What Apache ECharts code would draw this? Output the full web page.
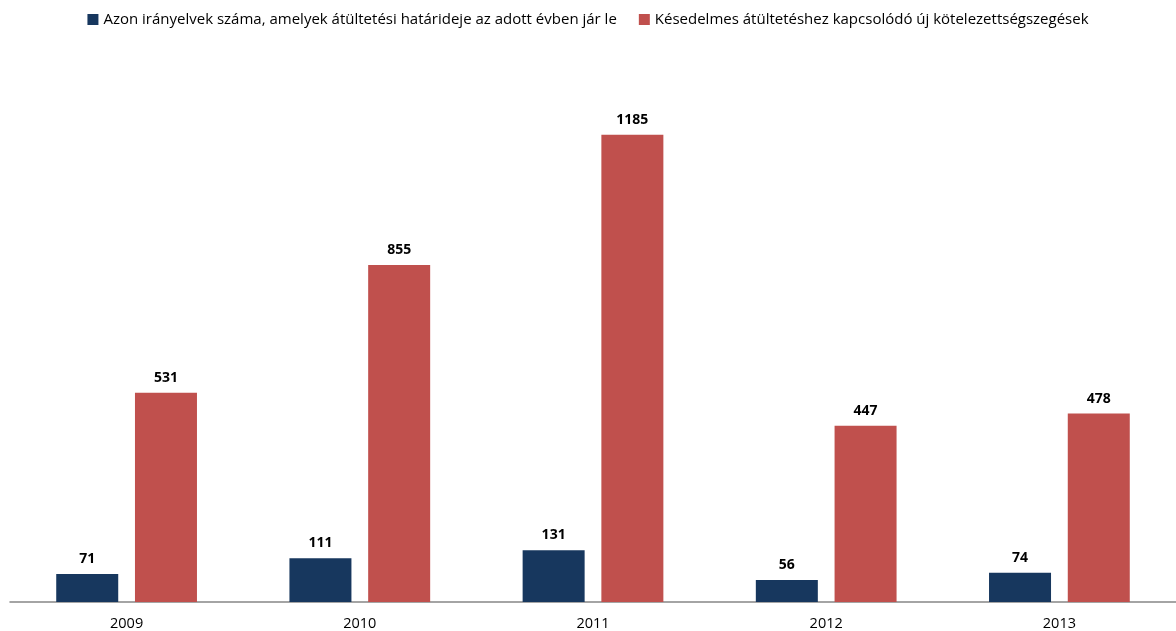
<!DOCTYPE html>
<html>
<head>
<meta charset="utf-8">
<script src="https://cdn.jsdelivr.net/npm/echarts@6/dist/echarts.min.js"></script>
<style>
  html, body { margin: 0; padding: 0; background: #fff; }
  #chart { width: 1176px; height: 631px; }
</style>
</head>
<body>
<div id="chart"></div>
<script>
var years = ['2009', '2010', '2011', '2012', '2013'];
var seriesNames = [
  'Azon irányelvek száma, amelyek átültetési határideje az adott évben jár le',
  'Késedelmes átültetéshez kapcsolódó új kötelezettségszegések'
];
var deadlines = [71, 111, 131, 56, 74];
var infringements = [531, 855, 1185, 447, 478];

var FONT = 'Open Sans';
var chart = echarts.init(document.getElementById('chart'));

function barSeries(name, data, color, gap) {
  return {
    name: name,
    type: 'bar',
    data: data,
    barWidth: 62,
    barGap: gap,
    itemStyle: { color: color },
    label: {
      show: true,
      position: 'top',
      distance: 8,
      color: '#000',
      fontWeight: 'bold',
      fontSize: 14,
      fontFamily: FONT
    }
  };
}

var option = {
  animation: false,
  textStyle: { fontFamily: FONT },
  legend: {
    top: 7,
    left: 'center',
    icon: 'rect',
    itemWidth: 11,
    itemHeight: 11,
    itemGap: 22,
    textStyle: { fontSize: 15, color: '#000', fontFamily: FONT },
    data: seriesNames
  },
  grid: {
    left: 10,
    right: 0,
    top: 50,
    bottom: 29,
    containLabel: false
  },
  xAxis: {
    type: 'category',
    data: years,
    axisLine: { lineStyle: { color: '#868686', width: 1.5 } },
    axisTick: { show: false },
    axisLabel: { color: '#000', fontSize: 14.5, margin: 14, fontFamily: FONT }
  },
  yAxis: {
    type: 'value',
    min: 0,
    max: 1400,
    show: false,
    splitLine: { show: false }
  },
  series: [
    barSeries(seriesNames[0], deadlines, '#17375E', '27%'),
    barSeries(seriesNames[1], infringements, '#C0504D', '27%')
  ]
};

chart.setOption(option);
</script>
</body>
</html>
